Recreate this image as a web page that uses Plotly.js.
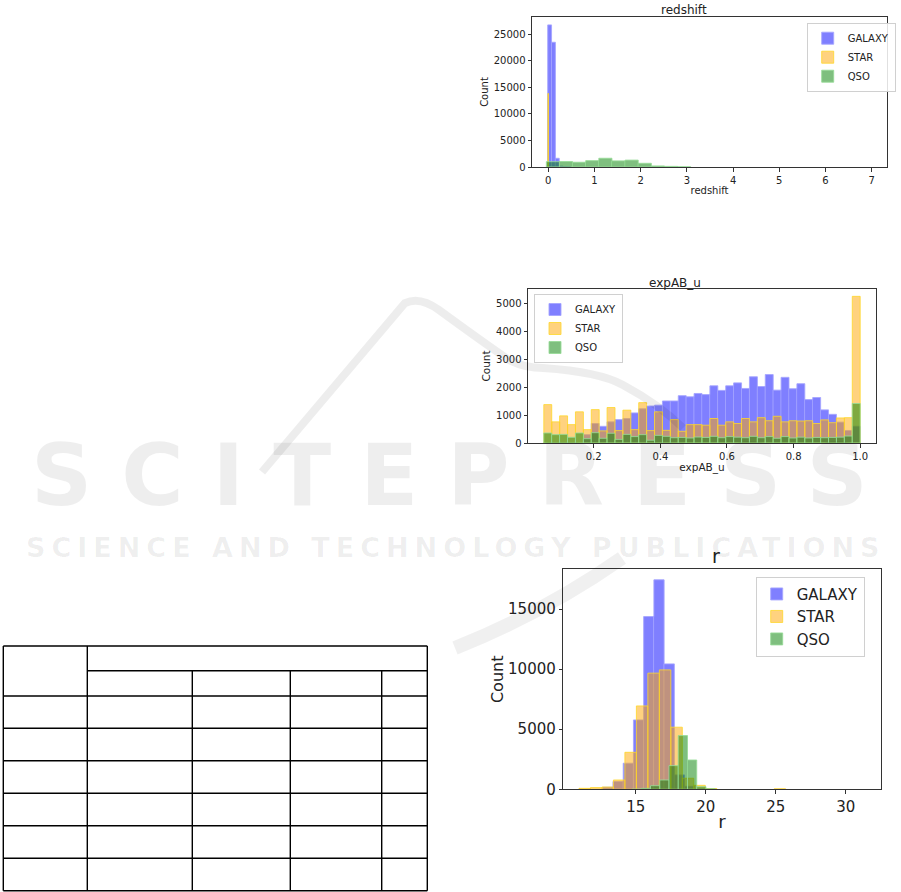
<!DOCTYPE html>
<html>
<head>
<meta charset="utf-8">
<script src="https://cdn.plot.ly/plotly-3.0.1.min.js"></script>
<style>html,body{margin:0;padding:0;background:#fff;}#chart{width:901px;height:892px;}</style>
</head>
<body>
<div id="chart"></div>
<script>
// ---------- data ----------
const classes = ["GALAXY", "STAR", "QSO"];

// redshift histograms (bin start, bin width, counts)
const rsGalaxyStart = -0.01, rsGalaxyWidth = 0.083;
const rsGalaxy = [26760, 23490, 1640, 160, 40, 15];
const rsStarStart = -0.0075, rsStarWidth = 0.015;
const rsStar = [13850];
const rsQsoStart = -0.04, rsQsoWidth = 0.284;
const rsQso = [1000, 1030, 900, 1200, 1650, 1150, 1300, 700, 200, 120, 40];

// expAB_u histograms (40 common bins from 0.05 to 1.0)
const abStart = 0.05, abWidth = 0.02375;
const abGalaxy = [0, 0, 0, 0, 0, 300, 700, 600, 760, 840,
                  880, 1080, 1230, 1330, 1360, 1510, 1510, 1700, 1660, 1780,
                  1740, 2055, 1890, 2055, 2160, 1960, 2380, 2030, 2460, 1900,
                  2360, 1950, 2130, 1560, 1635, 1190, 1030, 750, 450, 600];
const abStar = [1380, 760, 975, 660, 1120, 480, 1200, 435, 1275, 445,
                1180, 480, 1450, 445, 1120, 455, 840, 420, 660, 660,
                640, 880, 640, 760, 700, 880, 760, 910, 800, 960,
                760, 800, 790, 800, 700, 830, 730, 900, 910, 5270];
const abQso = [360, 300, 310, 205, 360, 155, 370, 170, 350, 130,
               310, 230, 300, 100, 275, 240, 190, 200, 180, 215,
               200, 240, 190, 230, 210, 190, 240, 190, 230, 170,
               230, 180, 210, 180, 200, 190, 200, 210, 250, 1420];

// r histograms (bins of each class)
const rGalaxyStart = 12.65, rGalaxyWidth = 0.73;
const rGalaxy = [170, 650, 2170, 5775, 14380, 17440, 10440, 1200, 250, 60];
const rStarStart = 10.95, rStarWidth = 0.82;
const rStar = [80, 140, 190, 775, 3080, 6940, 9670, 9940, 5170, 920, 330, 60, 0, 0, 0, 0, 0, 40];
const rQsoStart = 14.74, rQsoWidth = 0.66;
const rQso = [10, 80, 300, 775, 1970, 4470, 2440, 220, 50];

const yTicksRs = [0, 5000, 10000, 15000, 20000, 25000];
const xTicksRs = [0, 1, 2, 3, 4, 5, 6, 7];
const yTicksAb = [0, 1000, 2000, 3000, 4000, 5000];
const xTicksAb = [0.2, 0.4, 0.6, 0.8, 1.0];
const xTickTextAb = ["0.2", "0.4", "0.6", "0.8", "1.0"];
const yTicksR = [0, 5000, 10000, 15000];
const xTicksR = [15, 20, 25, 30];

// ---------- styling ----------
const W = 901, H = 892;
const px = x => x / W;
const py = y => 1 - y / H;
const FONT = "DejaVu Sans, Liberation Sans, sans-serif";
const fill = {GALAXY: "rgba(0,0,255,0.5)", STAR: "rgba(255,165,0,0.5)", QSO: "rgba(0,128,0,0.5)"};
const edge = {GALAXY: "rgba(165,165,255,0.9)", STAR: "rgba(255,215,40,0.8)", QSO: "rgba(150,220,150,0.85)"};

function hist(name, counts, start, width, xa, ya, legend) {
  const idx = counts.map((c, i) => i).filter(i => counts[i] > 0);
  return {
    type: "bar", name: name,
    x: idx.map(i => start + width * (i + 0.5)),
    y: idx.map(i => counts[i]),
    width: idx.map(() => width),
    xaxis: xa, yaxis: ya, legend: legend,
    marker: {color: fill[name], line: {color: edge[name], width: 1}},
    hoverinfo: "skip"
  };
}

const traces = [
  hist("GALAXY", rsGalaxy, rsGalaxyStart, rsGalaxyWidth, "x", "y", "legend"),
  hist("STAR", rsStar, rsStarStart, rsStarWidth, "x", "y", "legend"),
  hist("QSO", rsQso, rsQsoStart, rsQsoWidth, "x", "y", "legend"),
  hist("GALAXY", abGalaxy, abStart, abWidth, "x2", "y2", "legend2"),
  hist("STAR", abStar, abStart, abWidth, "x2", "y2", "legend2"),
  hist("QSO", abQso, abStart, abWidth, "x2", "y2", "legend2"),
  hist("GALAXY", rGalaxy, rGalaxyStart, rGalaxyWidth, "x3", "y3", "legend3"),
  hist("STAR", rStar, rStarStart, rStarWidth, "x3", "y3", "legend3"),
  hist("QSO", rQso, rQsoStart, rQsoWidth, "x3", "y3", "legend3")
];

function axis(extra, fs) {
  return Object.assign({
    showgrid: false, zeroline: false, showline: true, mirror: true,
    linecolor: "#333", linewidth: 1, ticks: "outside", ticklen: 3.5, tickwidth: 1,
    tickcolor: "#333", tickfont: {family: FONT, size: fs, color: "#222"},
    tickmode: "array", tickformat: "d", fixedrange: true
  }, extra);
}

function legendBox(x, y, fs) {
  return {x: x, y: y, xanchor: "left", yanchor: "top", xref: "paper", yref: "paper",
    bgcolor: "rgba(255,255,255,0.85)", bordercolor: "#d0d0d0", borderwidth: 1,
    font: {family: FONT, size: fs, color: "#222"}, traceorder: "normal", itemclick: false};
}

// table geometry (page layout)
const tblX = [3.3, 87.3, 192.3, 290.3, 381.7, 427.3];
const tblY = [646, 670.7, 696, 728.3, 760.7, 793.3, 825.7, 858.3, 890.7];
const shapes = [];
function seg(x0, y0, x1, y1) {
  shapes.push({type: "line", xref: "paper", yref: "paper", x0: px(x0), y0: py(y0), x1: px(x1), y1: py(y1),
    line: {color: "#000", width: 1.4}});
}
tblY.forEach((y, i) => { if (i === 1) seg(tblX[1], y, tblX[5], y); else seg(tblX[0], y, tblX[5], y); });
seg(tblX[0], tblY[0], tblX[0], tblY[8]);
seg(tblX[1], tblY[0], tblX[1], tblY[8]);
seg(tblX[2], tblY[1], tblX[2], tblY[8]);
seg(tblX[3], tblY[1], tblX[3], tblY[8]);
seg(tblX[4], tblY[1], tblX[4], tblY[8]);
seg(tblX[5], tblY[0], tblX[5], tblY[8]);

// faint publisher watermark swoosh
function pathOf(cmds) {
  return cmds.map(c => c[0] + " " + c.slice(1).map((v, k) => (k % 2 === 0 ? px(v) : py(v)).toFixed(5)).join(" ")).join(" ");
}
shapes.push({type: "path", xref: "paper", yref: "paper", layer: "above",
  path: pathOf([["M", 262, 472], ["L", 405, 303], ["Q", 420, 296, 439, 310], ["Q", 480, 340, 509, 360],
                ["Q", 525, 368, 543, 368], ["Q", 600, 372, 623, 385], ["Q", 660, 405, 683, 428]]),
  line: {color: "rgba(0,0,0,0.07)", width: 8}});
shapes.push({type: "path", xref: "paper", yref: "paper", layer: "above",
  path: pathOf([["M", 455, 648], ["Q", 545, 612, 622, 558]]),
  line: {color: "rgba(0,0,0,0.06)", width: 14}});

const annotations = [
  {text: "redshift", x: px(709), y: py(10), xref: "paper", yref: "paper", yanchor: "middle", showarrow: false, font: {family: FONT, size: 12, color: "#222"}},
  {text: "expAB_u", x: px(703), y: py(283), xref: "paper", yref: "paper", yanchor: "middle", showarrow: false, font: {family: FONT, size: 12, color: "#222"}},
  {text: "r", x: px(722), y: py(556), xref: "paper", yref: "paper", yanchor: "middle", showarrow: false, font: {family: FONT, size: 19, color: "#222"}},
  {text: '<span style="letter-spacing:29px">SCITEPRESS</span>', x: px(464), y: py(475), xref: "paper", yref: "paper", yanchor: "middle",
    showarrow: false, font: {family: FONT, size: 85, color: "rgba(0,0,0,0.065)", weight: "bold"}},
  {text: '<span style="letter-spacing:6px">SCIENCE AND TECHNOLOGY PUBLICATIONS</span>', x: px(456), y: py(547), xref: "paper", yref: "paper", yanchor: "middle",
    showarrow: false, font: {family: FONT, size: 27, color: "rgba(0,0,0,0.065)", weight: "bold"}}
];

const layout = {
  width: W, height: H, margin: {l: 0, r: 0, t: 0, b: 0},
  paper_bgcolor: "#fff", plot_bgcolor: "rgba(0,0,0,0)",
  barmode: "overlay", showlegend: true,
  font: {family: FONT, color: "#222"},
  xaxis: axis({domain: [px(532), px(887)], range: [-0.35, 7.33], tickvals: xTicksRs, anchor: "y",
    title: {text: "redshift", font: {family: FONT, size: 10}, standoff: 2}}, 10),
  yaxis: axis({domain: [py(167), py(17)], range: [0, 28245], tickvals: yTicksRs, anchor: "x",
    title: {text: "Count", font: {family: FONT, size: 10}, standoff: 3}}, 10),
  xaxis2: axis({domain: [px(528), px(876)], range: [0.0025, 1.0475], tickvals: xTicksAb, ticktext: xTickTextAb, anchor: "y2",
    title: {text: "expAB_u", font: {family: FONT, size: 10.5}, standoff: 0}}, 10),
  yaxis2: axis({domain: [py(443), py(289)], range: [0, 5534], tickvals: yTicksAb, anchor: "x2",
    title: {text: "Count", font: {family: FONT, size: 10.5}, standoff: 3}}, 10),
  xaxis3: axis({domain: [px(563.3), px(880.7)], range: [9.83, 32.5], tickvals: xTicksR, anchor: "y3",
    title: {text: "r", font: {family: FONT, size: 18}, standoff: 0}}, 15),
  yaxis3: axis({domain: [py(789.3), py(569.3)], range: [0, 18314], tickvals: yTicksR, anchor: "x3",
    title: {text: "Count", font: {family: FONT, size: 16}, standoff: 0}}, 15),
  legend: legendBox(px(806.7), py(22.7), 10),
  legend2: legendBox(px(534), py(294), 10),
  legend3: legendBox(px(755.7), py(576.7), 15),
  shapes: shapes,
  annotations: annotations
};

Plotly.newPlot("chart", traces, layout, {displayModeBar: false, staticPlot: true});
</script>
</body>
</html>
